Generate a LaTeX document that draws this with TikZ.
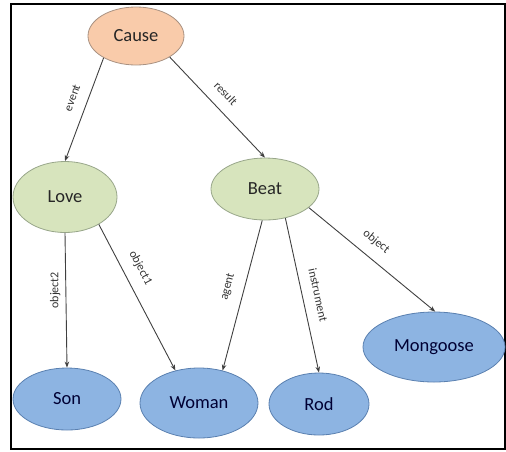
\documentclass[tikz,border=0pt]{standalone}
\usepackage{fontspec}
\setmainfont{Carlito}
\usepackage{tikz}
\usetikzlibrary{shapes.geometric}
\usetikzlibrary{arrows.meta}

\definecolor{causefill}{HTML}{F9CBAA}
\definecolor{causeline}{HTML}{A99282}
\definecolor{verbfill}{HTML}{D7E4BD}
\definecolor{verbline}{HTML}{98A68A}
\definecolor{rolefill}{HTML}{8DB4E2}
\definecolor{roleline}{HTML}{5A80B0}
\definecolor{edgegray}{HTML}{404040}

\begin{document}
\begin{tikzpicture}
        [x=1pt,y=-1pt,
         ell/.style={ellipse,draw,inner sep=0pt,line width=0.8pt,
           font=\fontsize{18.5}{20}\selectfont},
         cause/.style={ell,fill=causefill,draw=causeline,text=black!85},
         verb/.style={ell,fill=verbfill,draw=verbline,text=black!85},
         role/.style={ell,fill=rolefill,draw=roleline,text=blue!20!black},
         arr/.style={color=edgegray,line width=0.9pt,-{Stealth[length=6pt,width=4.5pt]}},
         lbl/.style={above=10pt,sloped,inner sep=1pt,text=black!80,
           font=\fontsize{12}{13}\selectfont}]
      \useasboundingbox (0,0) rectangle (506,451);
      \draw[line width=1.5pt] (11,4) rectangle (505,449);

      \node[cause,minimum width=96pt,minimum height=58pt]  (Cause)  at (136,36) {Cause};
      \node[verb,minimum width=104pt,minimum height=71pt]  (Love)  at (65,197) {Love};
      \node[verb,minimum width=108pt,minimum height=62pt]  (Beat)  at (265,189) {Beat};
      \node[role,minimum width=108pt,minimum height=62pt]  (Son)  at (67,399) {Son};
      \node[role,minimum width=118pt,minimum height=70pt]  (Woman)  at (199,403) {Woman};
      \node[role,minimum width=100pt,minimum height=62pt]  (Rod)  at (319,404) {Rod};
      \node[role,minimum width=142pt,minimum height=70pt]  (Mongoose)  at (434,347) {Mongoose};

      \path [arr] (Cause.214) edge node [lbl,pos=.44] {event} (Love.north)
            (Cause.328) edge node [lbl,pos=.47] {result} (Beat.north)
            (Love.south) edge node [lbl,sloped=false,xshift=-4pt,rotate=90,pos=.5] {object2} (Son.north)
            (Love.321) edge node [lbl,pos=.35] {object1} (Woman.126)
            (Beat.265) edge node [lbl,pos=.47] {agent} (Woman.54)
            (Beat.305) edge node [lbl,pos=.52] {instrument} (Rod.north)
            (Beat.337) edge node [lbl,pos=.45] {object} (Mongoose.88);
      \end{tikzpicture}
\end{document}
